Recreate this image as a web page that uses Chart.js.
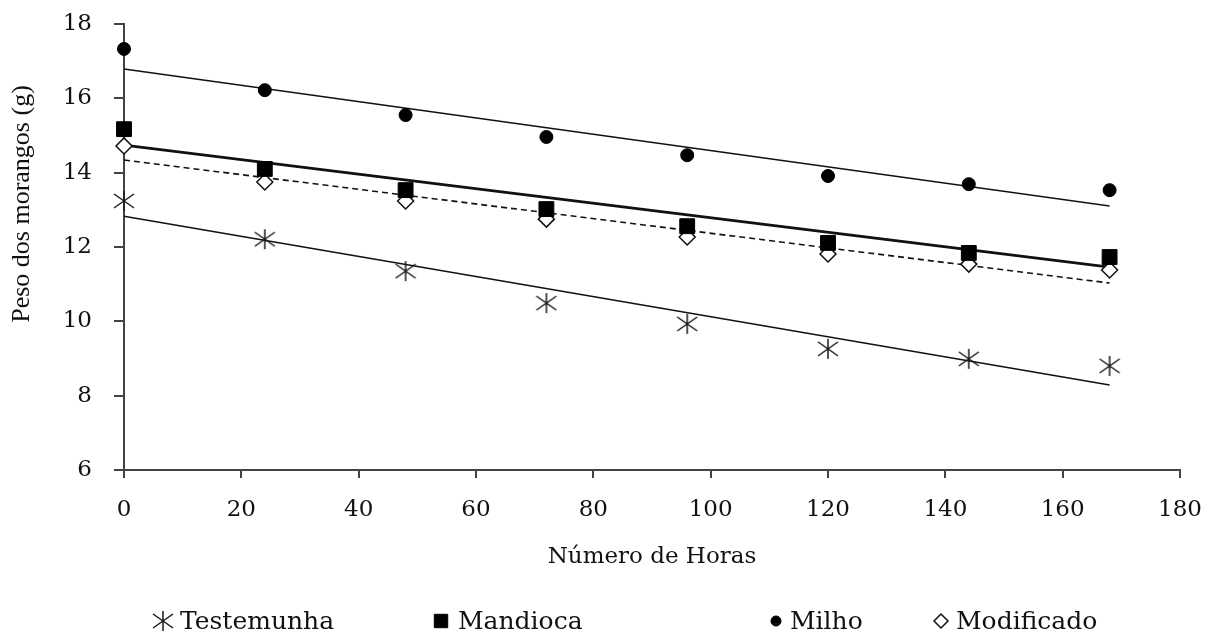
<!DOCTYPE html>
<html>
<head>
<meta charset="utf-8">
<script src="https://cdn.jsdelivr.net/npm/chart.js@4"></script>
<style>
  html, body { margin: 0; padding: 0; background: #fff; }
  #chart { display: block; }
</style>
</head>
<body>
<canvas id="chart" width="1214" height="637"></canvas>
<script>
// ---------- data ----------
const hours = [0, 24, 48, 72, 96, 120, 144, 168];
const testemunha = [13.24, 12.21, 11.35, 10.49, 9.93, 9.26, 8.99, 8.80];
const mandioca   = [15.17, 14.10, 13.53, 13.02, 12.56, 12.11, 11.84, 11.73];
const milho      = [17.33, 16.22, 15.55, 14.96, 14.47, 13.91, 13.69, 13.53];
const modificado = [14.72, 13.75, 13.24, 12.75, 12.27, 11.81, 11.54, 11.38];

// fitted lines, start and end values
const trendHours = [0, 168];
const trendTestemunha = [12.83, 8.29];
const trendMandioca   = [14.74, 11.46];
const trendMilho      = [16.79, 13.10];
const trendModificado = [14.34, 11.03];

const serif = "'Liberation Serif', serif";
const wideSerif = "'DejaVu Serif', serif";

function pts(xs, ys) {
    return xs.map((x, i) => ({ x: x, y: ys[i] }));
}

// asterisk marker (x with a vertical bar)
function asterisk(size, lw) {
    const c = document.createElement('canvas');
    c.width = size; c.height = size;
    const g = c.getContext('2d');
    const m = size / 2, r = size / 2 - 1;
    g.strokeStyle = '#1a1a1a';
    g.lineWidth = lw;
    g.beginPath();
    g.moveTo(m, m - r); g.lineTo(m, m + r);
    g.moveTo(m - r, m - r * 0.7); g.lineTo(m + r, m + r * 0.7);
    g.moveTo(m + r, m - r * 0.7); g.lineTo(m - r, m + r * 0.7);
    g.stroke();
    return c;
}
const starMark = asterisk(22, 1.5);

function trend(label, ys, width, dash) {
    return {
        type: 'line', label: label, data: pts(trendHours, ys),
        borderColor: '#111', borderWidth: width, borderDash: dash || [],
        pointRadius: 0, fill: false
    };
}

// legend below the x axis title + the y title, which sits above centre in the original
const extras = {
    id: 'extras',
    afterDraw(chart, args, opts) {
        const ctx = chart.ctx;
        const h = Chart.helpers;
        ctx.save();
        opts.items.forEach((it, i) => {
            const ds = chart.data.datasets[i];
            ctx.fillStyle = ds.backgroundColor;
            ctx.strokeStyle = ds.borderColor;
            ctx.lineWidth = ds.borderWidth || 1;
            h.drawPoint(ctx, { pointStyle: ds.pointStyle, radius: it.r, rotation: 0,
                               borderWidth: ds.borderWidth || 1 }, it.mark, opts.y);
            ctx.fillStyle = '#111';
            ctx.font = opts.font;
            ctx.textAlign = 'left';
            ctx.textBaseline = 'middle';
            ctx.fillText(ds.label, it.text, opts.y + 1);
        });
        // y axis title
        ctx.translate(opts.yTitle.x, opts.yTitle.y);
        ctx.rotate(-Math.PI / 2);
        ctx.font = opts.yTitle.font;
        ctx.fillStyle = '#111';
        ctx.textAlign = 'center';
        ctx.textBaseline = 'middle';
        ctx.fillText(opts.yTitle.text, 0, 0);
        ctx.restore();
    }
};

const ctx = document.getElementById('chart').getContext('2d');
new Chart(ctx, {
    type: 'scatter',
    data: {
        datasets: [
            { label: 'Testemunha', data: pts(hours, testemunha), pointStyle: starMark,
              pointRadius: 11, backgroundColor: '#1a1a1a', borderColor: '#1a1a1a' },
            { label: 'Mandioca', data: pts(hours, mandioca), pointStyle: 'rect',
              pointRadius: 10.5, backgroundColor: '#000', borderColor: '#000', borderWidth: 1 },
            { label: 'Milho', data: pts(hours, milho), pointStyle: 'circle',
              pointRadius: 6.5, backgroundColor: '#000', borderColor: '#000', borderWidth: 1 },
            { label: 'Modificado', data: pts(hours, modificado), pointStyle: 'rectRot',
              pointRadius: 8, backgroundColor: '#fff', borderColor: '#111', borderWidth: 1.5 },
            trend('t1', trendTestemunha, 1.5),
            trend('t2', trendMandioca, 2.8),
            trend('t3', trendMilho, 1.5),
            trend('t4', trendModificado, 1.6, [6, 4])
        ]
    },
    plugins: [extras],
    options: {
        responsive: false,
        animation: false,
        clip: false,
        layout: { padding: { left: 4, right: 34, top: 24, bottom: 60 } },
        plugins: {
            tooltip: { enabled: false },
            legend: { display: false },
            extras: {
                y: 621,
                font: '25px ' + wideSerif,
                items: [
                    { mark: 163, text: 180, r: 11 },
                    { mark: 441, text: 458, r: 9.5 },
                    { mark: 776, text: 790, r: 5 },
                    { mark: 941, text: 956, r: 7 }
                ],
                yTitle: { text: 'Peso dos morangos (g)', x: 22, y: 204, font: '26px ' + serif }
            }
        },
        scales: {
            x: {
                type: 'linear', min: 0, max: 180,
                border: { color: '#444', width: 2 },
                grid: { drawOnChartArea: false, tickLength: 8, color: '#444', lineWidth: 2 },
                ticks: { stepSize: 20, color: '#111', padding: 18, font: { family: wideSerif, size: 23 } },
                title: { display: true, text: 'Número de Horas', color: '#111',
                         font: { family: wideSerif, size: 23 }, padding: { top: 0, bottom: 6 } },
                afterFit: s => { s.height = 107; s.paddingLeft = 0; s.paddingRight = 0; }
            },
            y: {
                min: 6, max: 18,
                border: { color: '#444', width: 2 },
                grid: { drawOnChartArea: false, tickLength: 10, color: '#444', lineWidth: 2 },
                ticks: { stepSize: 2, color: '#111', padding: 22, font: { family: wideSerif, size: 23 } },
                afterFit: s => { s.width = 120; s.paddingTop = 0; s.paddingBottom = 0; }
            }
        }
    }
});
</script>
</body>
</html>
